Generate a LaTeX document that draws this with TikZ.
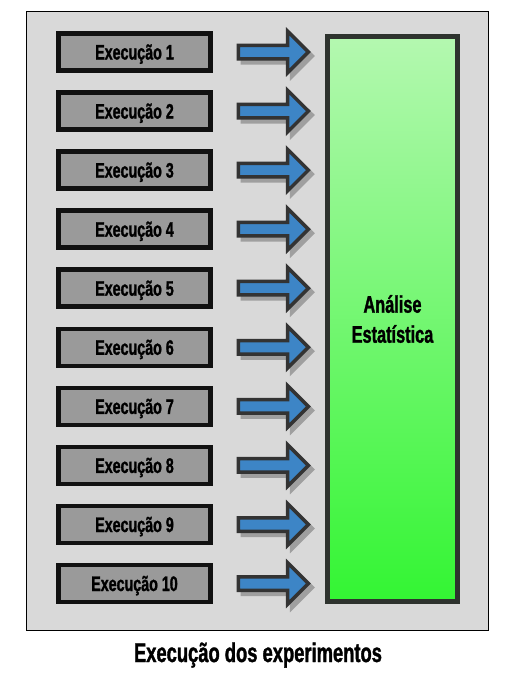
\documentclass[tikz,border=0pt]{standalone}
\usepackage{fontspec}
\setmainfont{Liberation Sans}[FakeStretch=0.68, FakeBold=1.3]
\usetikzlibrary{shapes.arrows,shadows}

\definecolor{bggray}{HTML}{D9D9D9}
\definecolor{rungray}{HTML}{9A9A9A}
\definecolor{runedge}{HTML}{111111}
\definecolor{flowblue}{HTML}{3D85C6}
\definecolor{flowedge}{HTML}{333333}
\definecolor{statstop}{HTML}{B4F8B0}
\definecolor{statsbot}{HTML}{33F533}
\definecolor{statsedge}{HTML}{2E332E}

\tikzset{
  runbox/.style={rectangle, draw=runedge, line width=4.5pt, fill=rungray,
    minimum width=152pt, minimum height=37pt, inner sep=0pt,
    font=\bfseries\fontsize{21}{24}\selectfont, text height=15pt, text depth=0pt},
  flowarrow/.style={single arrow, draw=flowedge, line width=3.5pt, fill=flowblue,
    minimum height=70pt, inner sep=5pt, single arrow head extend=14pt,
    drop shadow={shadow xshift=4pt, shadow yshift=-4pt, fill=gray!75, draw=gray!75, line width=3.5pt, opacity=1}},
  statsbox/.style={rectangle, draw=statsedge, line width=5pt,
    top color=statstop, bottom color=statsbot,
    minimum width=130pt, minimum height=565pt, align=center,
    font=\bfseries\fontsize{24}{30}\selectfont}
}

\begin{document}
\begin{tikzpicture}[x=1pt, y=-1pt]
  \useasboundingbox (0,0) rectangle (513,675);

  % Outer frame
  \draw[fill=bggray, line width=1pt] (26,11) rectangle (488,630);

  % Executions
  \node[runbox] (r1) at (134.5,52.0) {Execução 1};
  \node[runbox] (r2) at (134.5,111.1) {Execução 2};
  \node[runbox] (r3) at (134.5,170.1) {Execução 3};
  \node[runbox] (r4) at (134.5,229.2) {Execução 4};
  \node[runbox] (r5) at (134.5,288.2) {Execução 5};
  \node[runbox] (r6) at (134.5,347.3) {Execução 6};
  \node[runbox] (r7) at (134.5,406.4) {Execução 7};
  \node[runbox] (r8) at (134.5,465.4) {Execução 8};
  \node[runbox] (r9) at (134.5,524.5) {Execução 9};
  \node[runbox] (r10) at (134.5,583.5) {Execução 10};

  % Block arrows
  \node[flowarrow] (a1) at (270,52.0) {};
  \node[flowarrow] (a2) at (270,111.1) {};
  \node[flowarrow] (a3) at (270,170.1) {};
  \node[flowarrow] (a4) at (270,229.2) {};
  \node[flowarrow] (a5) at (270,288.2) {};
  \node[flowarrow] (a6) at (270,347.3) {};
  \node[flowarrow] (a7) at (270,406.4) {};
  \node[flowarrow] (a8) at (270,465.4) {};
  \node[flowarrow] (a9) at (270,524.5) {};
  \node[flowarrow] (a10) at (270,583.5) {};

  % Statistics
  \node[statsbox] (stats) at (392.5,319) {Análise\\Estatística};

  % Caption
  \node[anchor=base, inner sep=0pt, font=\bfseries\fontsize{27}{30}\selectfont] (caption) at (258,662) {Execução dos experimentos};
\end{tikzpicture}
\end{document}
